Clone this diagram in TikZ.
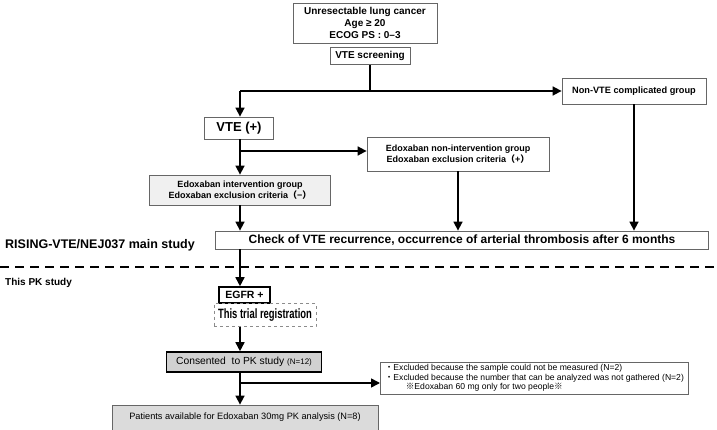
\documentclass[tikz,border=0pt]{standalone}
\usepackage{fontspec}
\setmainfont{Liberation Sans}
\newfontfamily\cjk{Noto Sans CJK JP}
\newfontfamily\narrowsans[FakeStretch=0.7]{Liberation Sans}
\usetikzlibrary{arrows.meta}

\begin{document}
\begin{tikzpicture}[x=1pt,y=-1pt,
    box/.style={draw=black!60,line width=0.8pt,align=center,inner sep=1pt},
    thickbox/.style={box,draw=black,line width=1.6pt},
    flow/.style={line width=1.6pt,-{Triangle[length=9pt,width=9pt]}},
    plain/.style={line width=1.6pt}]
  \useasboundingbox (0,0) rectangle (717,430);

  \node[box,minimum width=144,minimum height=40,font=\bfseries\fontsize{10}{12}\selectfont] (cancer) at (365,23) {Unresectable lung cancer\\Age ≥ 20\\ECOG PS : 0–3};
  \node[box,minimum width=80,minimum height=17,font=\bfseries\fontsize{10}{11}\selectfont] (screen) at (370,56) {VTE screening};
  \node[box,minimum width=144,minimum height=26,font=\bfseries\fontsize{9.2}{10}\selectfont] (nonvte) at (634,91) {Non-VTE complicated group};
  \node[box,minimum width=69,minimum height=22,font=\bfseries\fontsize{13}{14}\selectfont] (vtep) at (239,128) {VTE (+)};
  \node[box,minimum width=182,minimum height=34,font=\bfseries\fontsize{9}{11}\selectfont] (nonint) at (458,154) {Edoxaban non-intervention group\\Edoxaban exclusion criteria{\cjk（}+{\cjk）}};
  \node[box,fill=black!6,minimum width=181,minimum height=30,font=\bfseries\fontsize{9}{11}\selectfont] (interv) at (240,190) {Edoxaban intervention group\\Edoxaban exclusion criteria{\cjk（}−{\cjk）}};
  \node[box,minimum width=493,minimum height=18,font=\bfseries\fontsize{12}{13}\selectfont] (check) at (462,240) {Check of VTE recurrence, occurrence of arterial thrombosis after 6 months};
  \node[anchor=west,inner sep=0pt,font=\bfseries\fontsize{12.5}{13}\selectfont] (main) at (5,245) {RISING-VTE/NEJ037 main study};
  \node[anchor=west,inner sep=0pt,font=\bfseries\fontsize{10}{11}\selectfont] (pk) at (5,283) {This PK study};
  \node[thickbox,minimum width=51,minimum height=16,font=\bfseries\fontsize{10.5}{11}\selectfont] (egfr) at (244.5,295) {EGFR +};
  \node[box,dashed,draw=black!45,minimum width=102,minimum height=23,font=\narrowsans\bfseries\fontsize{13.5}{14}\selectfont] (trial) at (265,315) {This trial registration};
  \node[thickbox,fill=black!18,minimum width=155,minimum height=20,font=\fontsize{10.3}{11}\selectfont] (consent) at (244,362) {Consented\ \ to PK study {\fontsize{8}{9}\selectfont(N=12)}};
  \node[box,align=left,anchor=west,minimum width=308,minimum height=32,inner sep=2pt,font=\fontsize{8.6}{9.6}\selectfont] (excl) at (380,378) {{\cjk ・}Excluded because the sample could not be measured (N=2)\\{\cjk ・}Excluded because the number that can be analyzed was not gathered (N=2)\\\hspace{21pt}{\cjk ※}Edoxaban 60 mg only for two people{\cjk ※}};
  \node[box,fill=black!14,minimum width=266,minimum height=30,text depth=7pt,font=\fontsize{9.2}{10}\selectfont] (patients) at (245,420) {Patients available for Edoxaban 30mg PK analysis (N=8)};

  \coordinate (split1) at (240,91);
  \coordinate (split2) at (240,151);
  \coordinate (split3) at (240,383);

  \draw[plain] (screen.south) -- (screen.south |- split1);
  \draw[flow] (split1) -- (nonvte.west);
  \draw[flow] (split1) -- (split1 |- vtep.north);
  \draw[flow] (split2 |- vtep.south) -- (split2 |- interv.north);
  \draw[flow] (split2) -- (split2 -| nonint.west);
  \draw[flow] (split2 |- interv.south) -- (split2 |- check.north);
  \draw[flow] (nonint.south) -- (nonint.south |- check.north);
  \draw[flow] (nonvte.south) -- (nonvte.south |- check.north);
  \draw[flow] (split2 |- check.south) -- (split2 |- egfr.north);
  \draw[flow] (split3 |- trial.south) -- (split3 |- consent.north);
  \draw[plain] (split3 |- consent.south) -- (split3);
  \draw[flow] (split3) -- (split3 -| excl.west);
  \draw[flow] (split3) -- (split3 |- patients.north);

  \draw[dashed,line width=1.5pt,dash pattern=on 9pt off 6pt] (0,267) -- (717,267);
\end{tikzpicture}
\end{document}
